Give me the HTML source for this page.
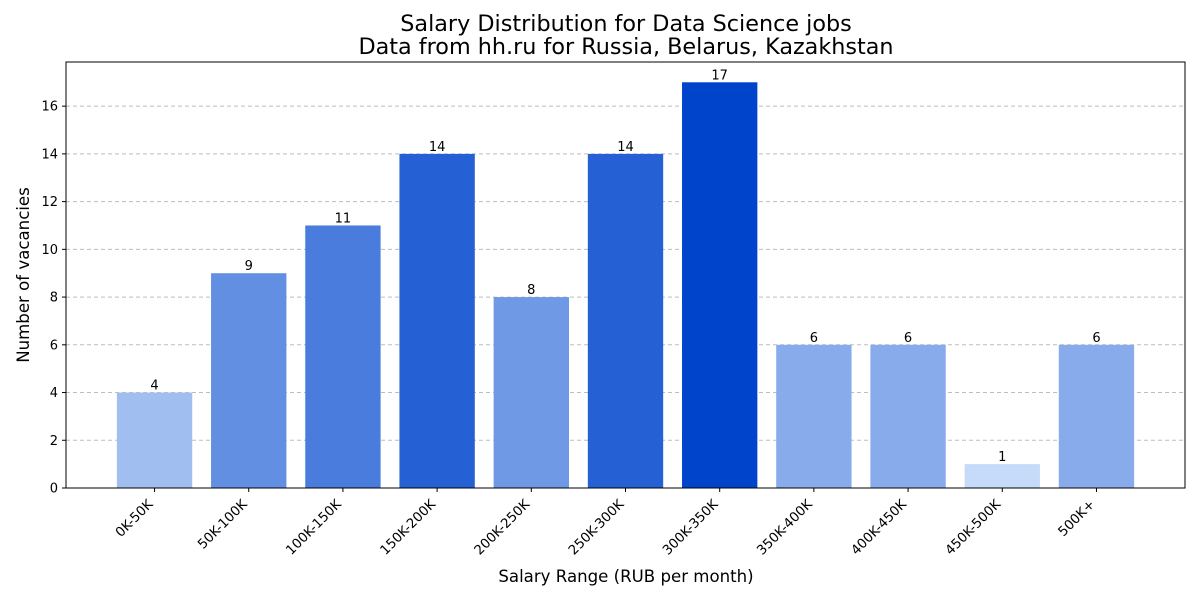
<!DOCTYPE html>
<html><head><meta charset="utf-8"><style>
body{margin:0;background:#fff;font-family:"Liberation Sans","DejaVu Sans",sans-serif;}
</style></head><body>
<svg width="1199" height="599" xmlns="http://www.w3.org/2000/svg" style="font-family:'DejaVu Sans','Liberation Sans',sans-serif">
<text x="626" y="31" text-anchor="middle" font-size="22.3">Salary Distribution for Data Science jobs</text>
<text x="626" y="54" text-anchor="middle" font-size="22.3">Data from hh.ru for Russia, Belarus, Kazakhstan</text>
<g id="grid"></g><g id="bars"></g><g id="ticks"></g>
<rect x="66" y="62" width="1119" height="426" fill="none" stroke="#000" stroke-width="1"/>
<text x="626" y="582" text-anchor="middle" font-size="16.6">Salary Range (RUB per month)</text>
<text transform="translate(29,275) rotate(-90)" text-anchor="middle" font-size="16.6">Number of vacancies</text>
</svg>
<script>
const categories=["0K-50K","50K-100K","100K-150K","150K-200K","200K-250K","250K-300K","300K-350K","350K-400K","400K-450K","450K-500K","500K+"];
const values=[4,9,11,14,8,14,17,6,6,1,6];
const yTicks=[0,2,4,6,8,10,12,14,16];
const NS="http://www.w3.org/2000/svg";
const L=66,R=1185,T=62,B=488,ymax=17.85,xmin=-0.94,xmax=10.94;
const xs=i=>L+(i-xmin)/(xmax-xmin)*(R-L);
const ys=v=>B-v/ymax*(B-T);
function mk(t,a,p){const e=document.createElementNS(NS,t);for(const k in a)e.setAttribute(k,a[k]);p.appendChild(e);return e;}
const grid=document.getElementById('grid'),bars=document.getElementById('bars'),ticks=document.getElementById('ticks');
const mx=Math.max(...values),mn=Math.min(...values);
function col(v){const t=(v-mn)/(mx-mn);const a=[198,218,249],b=[0,68,204];return `rgb(${a.map((c,i)=>Math.round(c+(b[i]-c)*t)).join(',')})`;}
yTicks.forEach(v=>{
 const y=ys(v);
 const g=mk('line',{x1:L,x2:R,y1:y,y2:y,stroke:'#bdbdbd','stroke-dasharray':'4,3'},grid);
 
 
 mk('line',{x1:L-4,x2:L,y1:y,y2:y,stroke:'#000'},ticks);
 const t=mk('text',{x:L-8,y:y+4.5,'text-anchor':'end','font-size':13},ticks);t.textContent=v;
 
 
});
const bw=0.8*(R-L)/(xmax-xmin);
categories.forEach((c,i)=>{
 const cx=xs(i),v=values[i];
 const r=mk('rect',{x:cx-bw/2,y:ys(v),width:bw,height:B-ys(v),fill:col(v)},bars);
 
 
 const vl=mk('text',{x:cx,y:ys(v)-3,'text-anchor':'middle','font-size':13},bars);vl.textContent=v;
 
 
 mk('line',{x1:cx,x2:cx,y1:B,y2:B+4,stroke:'#000'},ticks);
 const t=mk('text',{transform:`translate(${cx-1},${B+17}) rotate(-45)`,'text-anchor':'end','font-size':13.3},ticks);t.textContent=c;
 
 
});
</script>
</body></html>
